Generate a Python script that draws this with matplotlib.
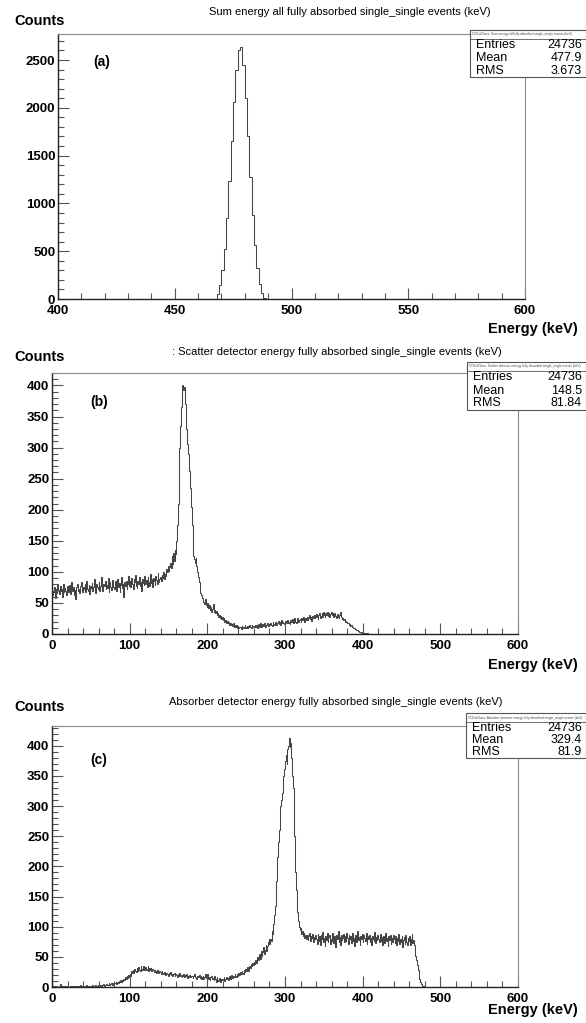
import numpy as np
import matplotlib.pyplot as plt
from matplotlib.ticker import MultipleLocator
from matplotlib.patches import Rectangle

plt.rcParams['font.family'] = ['Liberation Sans', 'DejaVu Sans']

W, H = 586, 1023

# (a) sum energy, 1 keV bins starting at 468 keV
sum_lo = 468
sum_counts = [50, 150, 300, 520, 850, 1230, 1650, 2060, 2400, 2600, 2640,
              2450, 2100, 1700, 1280, 880, 560, 320, 160, 60, 10]

# (b) scatter detector energy, 1 keV bins from 0 keV
scatter_counts = [
    62, 70, 68, 75, 58, 72, 66, 80, 71, 64, 77, 69, 73, 60, 81, 67, 74, 70, 63, 78,
    72, 68, 79, 65, 74, 83, 70, 76, 62, 71, 57, 75, 80, 69, 73, 66, 78, 84, 71, 68,
    76, 73, 81, 67, 85, 72, 70, 79, 64, 77, 74, 82, 69, 75, 88, 71, 66, 80, 76, 73,
    84, 70, 78, 92, 75, 69, 81, 77, 86, 72, 79, 74, 90, 68, 83, 76, 71, 87, 80, 75,
    73, 85, 78, 70, 88, 76, 82, 67, 79, 91, 74, 80, 60, 84, 77, 86, 72, 81, 93, 78,
    85, 76, 90, 80, 72, 88, 83, 95, 78, 74, 86, 81, 92, 77, 84, 70, 89, 82, 79, 94,
    80, 87, 76, 91, 84, 78, 96, 82, 88, 75, 90, 85, 79, 93, 87, 81, 98, 84, 89, 92,
    86, 95, 90, 100, 88, 97, 93, 104, 99, 110, 102, 108, 115, 106, 125, 112, 130, 118, 135, 128,
    150, 175, 210, 255, 300, 335, 365, 390, 400, 392, 398, 370, 345, 330, 305, 290, 275, 262, 235, 205,
    175, 150, 125, 120, 115, 122, 110, 100, 92, 84, 72, 66, 62, 58, 55, 52, 49, 56, 47, 44,
    50, 42, 46, 39, 44, 36, 41, 48, 35, 38, 33, 37, 30, 34, 28, 31, 26, 29, 24, 27,
    22, 25, 20, 23, 18, 21, 17, 19, 15, 18, 14, 16, 13, 17, 12, 15, 11, 14, 10, 13,
    9, 12, 11, 8, 13, 10, 12, 9, 14, 11, 10, 13, 9, 12, 15, 11, 10, 14, 12, 13,
    11, 15, 12, 14, 10, 16, 13, 12, 17, 11, 14, 16, 13, 18, 12, 15, 14, 17, 13, 16,
    14, 18, 15, 13, 19, 16, 14, 20, 17, 15, 18, 21, 16, 19, 14, 22, 17, 20, 18, 16,
    21, 17, 19, 23, 18, 20, 16, 22, 19, 24, 18, 21, 25, 20, 17, 23, 26, 19, 22, 24,
    20, 25, 22, 27, 21, 19, 26, 23, 28, 22, 25, 30, 24, 27, 21, 29, 26, 31, 25, 28,
    32, 27, 24, 30, 34, 26, 29, 33, 28, 35, 30, 27, 33, 31, 36, 29, 34, 28, 32, 35,
    30, 33, 27, 34, 31, 29, 26, 32, 28, 25, 30, 35, 27, 24, 26, 22, 24, 20, 21, 19,
    18, 17, 15, 16, 13, 14, 12, 11, 10, 9, 8, 7, 6, 7, 5, 4, 3, 4, 2, 3,
    2, 1, 2, 1, 1, 0, 1, 0, 0, 0,
]

# (c) absorber detector energy, 1 keV bins from 0 keV
absorber_counts = [
    0, 1, 0, 0, 2, 0, 1, 0, 0, 1, 5, 2, 0, 1, 0, 0, 1, 0, 2, 0,
    1, 0, 0, 1, 0, 2, 1, 0, 1, 0, 0, 1, 2, 0, 1, 0, 3, 1, 0, 2,
    1, 0, 2, 1, 3, 0, 1, 2, 1, 0, 2, 1, 3, 2, 0, 1, 4, 2, 1, 3,
    2, 3, 1, 4, 2, 3, 5, 2, 4, 3, 5, 4, 3, 6, 4, 5, 7, 4, 6, 5,
    7, 6, 8, 5, 9, 7, 10, 8, 11, 9, 12, 10, 14, 11, 16, 13, 18, 15, 20, 17,
    22, 19, 26, 23, 28, 24, 30, 26, 25, 31, 27, 33, 29, 26, 34, 30, 28, 35, 31, 29,
    33, 28, 30, 35, 27, 31, 29, 32, 26, 30, 28, 25, 29, 27, 24, 28, 26, 23, 27, 25,
    22, 26, 24, 21, 25, 23, 20, 24, 22, 19, 23, 21, 25, 20, 22, 18, 21, 24, 19, 22,
    20, 17, 21, 19, 23, 18, 20, 16, 19, 22, 17, 20, 18, 21, 15, 19, 17, 20, 16, 18,
    19, 15, 18, 21, 16, 17, 14, 19, 16, 20, 15, 18, 13, 17, 19, 14, 16, 22, 15, 17,
    21, 14, 17, 12, 16, 19, 13, 15, 11, 18, 14, 9, 16, 12, 10, 15, 8, 13, 11, 14,
    12, 16, 10, 14, 17, 13, 15, 11, 18, 14, 16, 20, 15, 19, 17, 21, 18, 16, 22, 19,
    23, 20, 25, 21, 27, 24, 22, 28, 25, 30, 26, 33, 29, 27, 35, 31, 38, 34, 40, 36,
    42, 38, 45, 40, 50, 44, 48, 55, 46, 60, 52, 58, 66, 54, 62, 70, 60, 68, 74, 80,
    72, 80, 76, 92, 88, 105, 120, 135, 150, 175, 215, 240, 260, 275, 300, 310, 322, 335, 350, 362,
    375, 385, 370, 395, 400, 412, 398, 405, 380, 350, 330, 300, 250, 190, 160, 140, 125, 110, 100, 95,
    98, 88, 92, 85, 90, 82, 87, 80, 86, 78, 84, 90, 76, 85, 81, 88, 74, 83, 79, 86,
    80, 72, 88, 77, 84, 70, 86, 79, 91, 75, 82, 68, 85, 78, 90, 74, 83, 87, 71, 80,
    76, 89, 73, 84, 81, 66, 87, 79, 92, 75, 83, 70, 86, 78, 81, 88, 74, 85, 77, 90,
    82, 71, 86, 79, 84, 73, 89, 76, 81, 68, 87, 80, 75, 92, 78, 83, 70, 85, 79, 88,
    74, 86, 81, 77, 90, 72, 84, 79, 87, 75, 82, 69, 85, 80, 76, 91, 73, 83, 78, 86,
    80, 74, 88, 77, 83, 70, 85, 79, 73, 89, 76, 82, 68, 84, 78, 87, 72, 81, 75, 86,
    79, 73, 85, 70, 82, 76, 88, 71, 80, 74, 84, 67, 78, 83, 72, 86, 75, 69, 81, 77,
    84, 70, 79, 88, 73, 78, 70, 62, 52, 44, 36, 28, 20, 14, 9, 5, 3, 1, 1, 0,
]

titles = ["Sum energy all fully absorbed single_single events (keV)",
          ": Scatter detector energy fully absorbed single_single events (keV)",
          "Absorber detector energy fully absorbed single_single events (keV)"]
box_names = ["CCExtClass: Sum energy all fully absorbed single_single events (keV)",
             "CCExtClass: Scatter detector energy fully absorbed single_single events (keV)",
             "CCExtClass: Absorber detector energy fully absorbed single_single events (keV)"]
entries = [24736, 24736, 24736]
means = ["477.9", "148.5", "329.4"]
rms = ["3.673", "81.84", "81.9"]
panel_tags = ["(a)", "(b)", "(c)"]


def fx(x):
    return x / W


def fy(y):
    return 1 - y / H


fig = plt.figure(figsize=(W / 100, H / 100), dpi=100)

hists = [
    (np.arange(sum_lo, sum_lo + len(sum_counts) + 1), sum_counts),
    (np.arange(len(scatter_counts) + 1), scatter_counts),
    (np.arange(len(absorber_counts) + 1), absorber_counts),
]
# pixel frames: left, top, right, bottom
frames = [(58, 34, 525, 299), (52, 373, 518, 634), (52, 726, 518, 987)]
xlims = [(400, 600), (0, 600), (0, 600)]
xmaj = [50, 100, 100]
xmin = [10, 20, 20]
ymaj = [500, 50, 50]
ymin = [100, 10, 10]
title_xy = [(350, 12), (337, 352), (336, 702)]
counts_y = [21, 357, 707]
energy_y = [329, 665, 1010]
tag_xy = [(93, 62), (90, 402), (90, 760)]
boxes = [(470, 30, 586, 77), (467, 362, 586, 410), (466, 713, 586, 758)]

for i in range(3):
    l, t, r, b = frames[i]
    ax = fig.add_axes([fx(l), fy(b), fx(r) - fx(l), fy(t) - fy(b)])
    edges, vals = hists[i]
    vals = np.asarray(vals, dtype=float)
    ax.stairs(vals, edges, color='#444444', linewidth=0.75, baseline=0)
    ax.set_xlim(*xlims[i])
    ax.set_ylim(0, 1.05 * vals.max())

    ax.xaxis.set_major_locator(MultipleLocator(xmaj[i]))
    ax.xaxis.set_minor_locator(MultipleLocator(xmin[i]))
    ax.yaxis.set_major_locator(MultipleLocator(ymaj[i]))
    ax.yaxis.set_minor_locator(MultipleLocator(ymin[i]))
    ax.tick_params(which='both', direction='in', top=False, right=False,
                   color='#555555', width=0.8)
    ax.tick_params(which='major', length=8, labelsize=9.5)
    ax.tick_params(which='minor', length=4)
    ax.tick_params(axis='x', pad=4)
    ax.tick_params(axis='y', pad=2)
    for lab in ax.get_xticklabels() + ax.get_yticklabels():
        lab.set_fontweight('bold')
    for side in ('left', 'bottom'):
        ax.spines[side].set_color('#222222')
        ax.spines[side].set_linewidth(1.0)
    for side in ('top', 'right'):
        ax.spines[side].set_color('#888888')
        ax.spines[side].set_linewidth(0.8)

    fig.text(fx(title_xy[i][0]), fy(title_xy[i][1]), titles[i],
             ha='center', va='center', fontsize=8)
    fig.text(fx(14), fy(counts_y[i]), "Counts", ha='left', va='center',
             fontsize=10.5, fontweight='bold')
    fig.text(fx(578), fy(energy_y[i]), "Energy (keV)", ha='right', va='center',
             fontsize=10.5, fontweight='bold')
    fig.text(fx(tag_xy[i][0]), fy(tag_xy[i][1]), panel_tags[i], ha='left',
             va='center', fontsize=10, fontweight='bold')

    # stats box
    bl, bt, br, bb = boxes[i]
    box = Rectangle((fx(bl), fy(bb)), fx(br) - fx(bl), fy(bt) - fy(bb),
                    transform=fig.transFigure, facecolor='white',
                    edgecolor='#555555', linewidth=0.8, zorder=5)
    fig.add_artist(box)
    head_h = 9
    fig.add_artist(plt.Line2D([fx(bl), fx(br)], [fy(bt + head_h)] * 2,
                              transform=fig.transFigure, color='#555555',
                              linewidth=0.6, zorder=6))
    fig.text(fx(bl + 2), fy(bt + head_h / 2), box_names[i], ha='left',
             va='center', fontsize=2.3, color='#444444', zorder=7)
    row_h = (bb - bt - head_h) / 3
    rows = [("Entries", str(entries[i])), ("Mean", means[i]), ("RMS", rms[i])]
    for k, (key, val) in enumerate(rows):
        yy = bt + head_h + row_h * (k + 0.5)
        fig.text(fx(bl + 6), fy(yy), key, ha='left', va='center',
                 fontsize=9, zorder=7)
        fig.text(fx(br - 4), fy(yy), val, ha='right', va='center',
                 fontsize=9, zorder=7)

fig.savefig('out.png', dpi=100, facecolor='white')
